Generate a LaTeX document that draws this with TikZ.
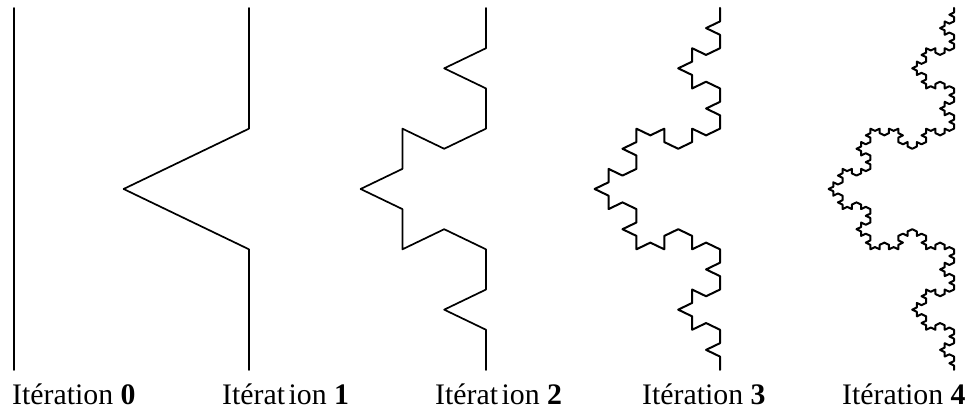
\documentclass[tikz,border=0pt]{standalone}
\usepackage{fontspec}
\setmainfont{Liberation Serif}
\usetikzlibrary{lindenmayersystems}
\pgfdeclarelindenmayersystem{KochDown}{\rule{F -> F-F++F-F}}
\tikzset{
  kochline/.style={line width=1.7pt, black, line join=round, line cap=round},
  itlabel/.style={anchor=base west, inner sep=0pt, font=\fontsize{29.8}{32}\selectfont}
}
\begin{document}
\begin{tikzpicture}[x=1pt,y=1pt]
\useasboundingbox (0,0) rectangle (970,414);
% curves: top at y=406, length 362, bump to the left, stretched horizontally
\foreach \xpos/\ord/\st/\lw in {14/0/362/1.7, 249/1/120.667/1.7, 486/2/40.222/1.7, 720/3/13.407/2.0, 954/4/4.469/2.0}{
  \begin{scope}[shift={(\xpos,406)}, xscale=1.2, rotate=-90]
    \draw[kochline, line width=\lw pt, l-system={KochDown, axiom=F, order=\ord, step=\st pt, angle=60}] (0,0) lindenmayer system;
  \end{scope}
}
\node[itlabel] (l0) at (12,9) {Itération \textbf{0}};
\node[itlabel] (l1) at (222,9) {Itérat\hspace{0.12em}ion \textbf{1}};
\node[itlabel] (l2) at (435,9) {Itérat\hspace{0.12em}ion \textbf{2}};
\node[itlabel] (l3) at (642,9) {Itération \textbf{3}};
\node[itlabel] (l4) at (842,9) {Itération \textbf{4}};
\end{tikzpicture}
\end{document}
